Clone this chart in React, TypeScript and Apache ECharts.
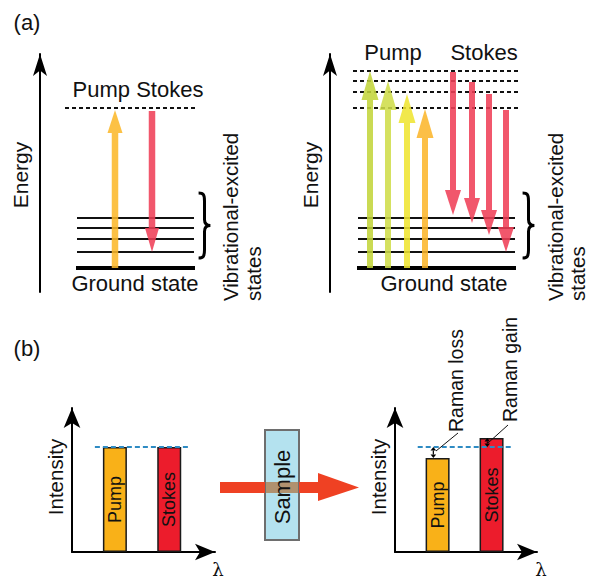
import React, { useEffect, useRef } from 'react';
import * as echarts from 'echarts';

const FONT = '"Liberation Sans", Arial, Helvetica, sans-serif';

// ---------- Panel (a): energy levels (arbitrary energy units, ground state = 0) ----------
const groundLevel = 0;
const vibLevels = [16, 29, 40, 50];
const virtualLevelsA1 = [160];
const virtualLevelsA2 = [197, 187, 176, 160];

// left diagram: one pump / one Stokes
const a1PumpPos = [75];
const a1PumpTop = [158];
const a1StokesPos = [112];
const a1StokesFrom = [157];
const a1StokesTo = [16];

// right diagram: several pumps / several Stokes
const a2PumpPos = [40, 58, 77, 95];
const a2PumpTop = [197, 187, 174, 159];
const a2StokesPos = [123, 142, 159, 176];
const a2StokesFrom = [196, 186, 174, 158];
const a2StokesTo = [53, 45, 33, 16];

// horizontal extents of the level lines (diagram x units)
const a1LineSpan = [37, 154];
const a1GroundSpan = [36, 155];
const a1VirtualSpan = [25, 158];
const a2LineSpan = [28, 185];
const a2GroundSpan = [27, 186];
const a2VirtualSpan = [23, 190];
const a1BraceX = [158, 171];
const a2BraceX = [192, 205];
const braceRange = [10, 75];

const PUMP_A1_COLORS = ['#fbb829'];
const PUMP_A2_COLORS = ['#c2d53a', '#cfdc48', '#efe530', '#fbb62a'];
const STOKES_COLOR = '#ef3e56';

// ---------- Panel (b): intensities before / after the sample ----------
const bNames = ['Pump', 'Stokes'];
const bWavelength = [3.0, 6.8];
const bBefore = [7.29, 7.29];
const bAfter = [6.53, 7.92];
const bBaseline = 7.29;
const bBaselineSpan = [1.6, 8.25];
const BAR_COLORS = ['#f9b118', '#ec1c2c'];

type Api = any;

function levelItem(_p: any, api: Api) {
  const x0 = api.value(0), x1 = api.value(1), e = api.value(2), t = api.value(3);
  const p0 = api.coord([x0, e]);
  const p1 = api.coord([x1, e]);
  let style: any;
  if (t === 1) style = { stroke: '#000', lineWidth: 4 };
  else if (t === 2) style = { stroke: '#111', lineWidth: 1.8, lineDash: [4, 3] };
  else style = { stroke: '#111', lineWidth: 2 };
  return { type: 'line', shape: { x1: p0[0], y1: p0[1], x2: p1[0], y2: p1[1] }, style };
}

function arrowRenderer(colors: string[], headLen: number, headW: number, shaftW: number) {
  return (_p: any, api: Api) => {
    const x = api.value(0), from = api.value(1), to = api.value(2), ci = api.value(3);
    const p0 = api.coord([x, from]);
    const p1 = api.coord([x, to]);
    const dir = p1[1] < p0[1] ? -1 : 1;
    const baseY = p1[1] - dir * headLen;
    const color = colors[ci];
    return {
      type: 'group',
      children: [
        {
          type: 'rect',
          shape: { x: p0[0] - shaftW / 2, y: Math.min(p0[1], baseY), width: shaftW, height: Math.abs(baseY - p0[1]) },
          style: { fill: color, opacity: 0.87 },
        },
        {
          type: 'polygon',
          shape: { points: [[p1[0] - headW / 2, baseY], [p1[0] + headW / 2, baseY], [p1[0], p1[1]]] },
          style: { fill: color, opacity: 0.87 },
        },
      ],
    };
  };
}

const BRACE_PATH = 'M0,0 C5,0 6,2 6,8 L6,27 C6,31 8,33 12,33 C8,33 6,35 6,39 L6,58 C6,64 5,66 0,66';
function braceItem(_p: any, api: Api) {
  const x0 = api.value(0), x1 = api.value(1), lo = api.value(2), hi = api.value(3);
  const pTop = api.coord([x0, hi]);
  const pBot = api.coord([x1, lo]);
  return {
    type: 'path',
    shape: { pathData: BRACE_PATH, x: pTop[0], y: pTop[1], width: pBot[0] - pTop[0], height: pBot[1] - pTop[1] },
    style: { stroke: '#000', lineWidth: 3, fill: 'none' },
  };
}

function doubleArrowItem(_p: any, api: Api) {
  const x = api.value(0), a = api.value(1), b = api.value(2);
  const pa = api.coord([x, Math.max(a, b)]);
  const pb = api.coord([x, Math.min(a, b)]);
  const hw = 2.8, hl = 3.5;
  return {
    type: 'group',
    children: [
      { type: 'line', shape: { x1: pa[0], y1: pa[1] + hl, x2: pb[0], y2: pb[1] - hl }, style: { stroke: '#000', lineWidth: 1.2 } },
      { type: 'polygon', shape: { points: [[pa[0], pa[1]], [pa[0] - hw, pa[1] + hl], [pa[0] + hw, pa[1] + hl]] }, style: { fill: '#000' } },
      { type: 'polygon', shape: { points: [[pb[0], pb[1]], [pb[0] - hw, pb[1] - hl], [pb[0] + hw, pb[1] - hl]] }, style: { fill: '#000' } },
    ],
  };
}

function levelsData(lineSpan: number[], groundSpan: number[], virtSpan: number[], virt: number[]) {
  const d: number[][] = [];
  vibLevels.forEach((e) => d.push([lineSpan[0], lineSpan[1], e, 0]));
  d.push([groundSpan[0], groundSpan[1], groundLevel, 1]);
  virt.forEach((e) => d.push([virtSpan[0], virtSpan[1], e, 2]));
  return d;
}

function txt(text: string, x: number, y: number, size: number, rot = 0, align = 'center', family = FONT) {
  return {
    type: 'text',
    x,
    y,
    rotation: rot,
    z: 20,
    style: {
      text,
      fontSize: size,
      fontFamily: family,
      fill: '#111',
      align,
      textAlign: align,
      verticalAlign: 'middle',
      textVerticalAlign: 'middle',
    },
  };
}

const R = Math.PI / 2;

export default function App() {
  const ref = useRef<HTMLDivElement>(null);
  useEffect(() => {
    if (!ref.current) return;
    const chart = echarts.init(ref.current, undefined, { renderer: 'svg' });

    const energyAxis = (gi: number) => ({
      gridIndex: gi,
      type: 'value',
      min: -24,
      max: 214,
      axisLine: { show: true, symbol: ['none', 'arrow'], symbolSize: [10.5, 22], lineStyle: { color: '#000', width: 2 } },
      axisTick: { show: false },
      axisLabel: { show: false },
      splitLine: { show: false },
    });
    const diagX = (gi: number) => ({ gridIndex: gi, type: 'value', min: 0, max: 200, show: false });
    const bAxis = (gi: number) => ({
      gridIndex: gi,
      type: 'value',
      min: 0,
      max: 10,
      axisLine: { show: true, onZero: false, symbol: ['none', 'arrow'], symbolSize: [12.5, 20], lineStyle: { color: '#000', width: 2 } },
      axisTick: { show: false },
      axisLabel: { show: false },
      splitLine: { show: false },
    });

    const barSeries = (gi: number, values: number[]) => ({
      type: 'bar',
      xAxisIndex: gi,
      yAxisIndex: gi,
      barWidth: 24,
      z: 3,
      data: bNames.map((n, i) => ({ name: n, value: [bWavelength[i], values[i]], itemStyle: { color: BAR_COLORS[i] } })),
      itemStyle: { borderColor: '#1a1a1a', borderWidth: 1.5 },
      label: { show: true, position: 'inside', rotate: 90, formatter: '{b}', fontSize: 18, fontFamily: FONT, color: '#111' },
      markLine: {
        silent: true,
        symbol: ['none', 'none'],
        label: { show: false },
        lineStyle: { color: '#2e8bc3', type: [5, 3], width: 2 },
        data: [[{ coord: [bBaselineSpan[0], bBaseline] }, { coord: [bBaselineSpan[1], bBaseline] }]],
      },
    });

    const option: any = {
      animation: false,
      backgroundColor: '#ffffff',
      grid: [
        { left: 40, top: 54, width: 200, height: 238, outerBoundsMode: 'none' },
        { left: 330, top: 54, width: 200, height: 238, outerBoundsMode: 'none' },
        { left: 72, top: 408, width: 143, height: 144, outerBoundsMode: 'none' },
        { left: 395, top: 408, width: 142, height: 144, outerBoundsMode: 'none' },
      ],
      xAxis: [diagX(0), diagX(1), bAxis(2), bAxis(3)],
      yAxis: [energyAxis(0), energyAxis(1), bAxis(2), bAxis(3)],
      series: [
        { type: 'custom', xAxisIndex: 0, yAxisIndex: 0, z: 2, renderItem: levelItem, data: levelsData(a1LineSpan, a1GroundSpan, a1VirtualSpan, virtualLevelsA1) },
        { type: 'custom', xAxisIndex: 1, yAxisIndex: 1, z: 2, renderItem: levelItem, data: levelsData(a2LineSpan, a2GroundSpan, a2VirtualSpan, virtualLevelsA2) },
        { type: 'custom', xAxisIndex: 0, yAxisIndex: 0, z: 2, renderItem: braceItem, data: [[a1BraceX[0], a1BraceX[1], braceRange[0], braceRange[1]]] },
        { type: 'custom', xAxisIndex: 1, yAxisIndex: 1, z: 2, renderItem: braceItem, data: [[a2BraceX[0], a2BraceX[1], braceRange[0], braceRange[1]]] },
        {
          type: 'custom', xAxisIndex: 0, yAxisIndex: 0, z: 4,
          renderItem: arrowRenderer(PUMP_A1_COLORS, 23, 15, 6.5),
          data: a1PumpPos.map((x, i) => [x, groundLevel, a1PumpTop[i], i]),
        },
        {
          type: 'custom', xAxisIndex: 0, yAxisIndex: 0, z: 4,
          renderItem: arrowRenderer([STOKES_COLOR], 24, 14, 6.5),
          data: a1StokesPos.map((x, i) => [x, a1StokesFrom[i], a1StokesTo[i], 0]),
        },
        {
          type: 'custom', xAxisIndex: 1, yAxisIndex: 1, z: 4,
          renderItem: arrowRenderer(PUMP_A2_COLORS, 29, 17, 6),
          data: a2PumpPos.map((x, i) => [x, groundLevel, a2PumpTop[i], i]),
        },
        {
          type: 'custom', xAxisIndex: 1, yAxisIndex: 1, z: 4,
          renderItem: arrowRenderer([STOKES_COLOR], 25, 16, 6),
          data: a2StokesPos.map((x, i) => [x, a2StokesFrom[i], a2StokesTo[i], 0]),
        },
        barSeries(2, bBefore),
        barSeries(3, bAfter),
        {
          type: 'custom', xAxisIndex: 3, yAxisIndex: 3, z: 6,
          renderItem: doubleArrowItem,
          data: bWavelength.map((w, i) => [w - 0.3, bBaseline, bAfter[i]]),
        },
      ],
      graphic: [
        txt('(a)', 27, 22, 22),
        txt('(b)', 27, 348, 22),
        txt('Energy', 20, 175, 21, R),
        txt('Energy', 310, 175, 21, R),
        txt('Pump Stokes', 138, 89, 22),
        txt('Pump', 393, 52, 22),
        txt('Stokes', 484, 52, 22),
        txt('Ground state', 135, 283, 22),
        txt('Ground state', 444, 283, 22),
        txt('Vibrational-excited', 230, 301, 20.5, R, 'left'),
        txt('states', 253, 301, 20.5, R, 'left'),
        txt('Vibrational-excited', 555, 301, 20.5, R, 'left'),
        txt('states', 577, 301, 20.5, R, 'left'),
        txt('Intensity', 55, 477, 20.5, R),
        txt('Intensity', 378, 477, 20.5, R),
        txt('λ', 218, 569, 18, 0, 'center', '"DejaVu Serif", "Liberation Serif", serif'),
        txt('λ', 541, 569, 18, 0, 'center', '"DejaVu Serif", "Liberation Serif", serif'),
        // sample and beam
        { type: 'rect', z: 10, shape: { x: 265, y: 430, width: 34, height: 110 }, style: { fill: '#b4e2ef', stroke: '#6e6e6e', lineWidth: 2 } },
        { type: 'rect', z: 11, shape: { x: 220, y: 482, width: 45, height: 11 }, style: { fill: '#ef4123' } },
        { type: 'rect', z: 11, shape: { x: 266, y: 482, width: 32, height: 11 }, style: { fill: '#b0916f' } },
        { type: 'rect', z: 11, shape: { x: 299, y: 482, width: 20, height: 11 }, style: { fill: '#ef4123' } },
        { type: 'polygon', z: 11, shape: { points: [[318, 473], [359, 487.5], [318, 501]] }, style: { fill: '#ef4123' } },
        txt('Sample', 282, 487, 22, R),
        // Raman annotations
        { type: 'line', z: 12, shape: { x1: 458, y1: 433, x2: 436, y2: 451 }, style: { stroke: '#111', lineWidth: 1 } },
        { type: 'line', z: 12, shape: { x1: 508, y1: 425, x2: 488, y2: 443 }, style: { stroke: '#111', lineWidth: 1 } },
        txt('Raman loss', 456, 432, 19.5, R, 'left'),
        txt('Raman gain', 510, 422, 19.5, R, 'left'),
      ],
    };
    chart.setOption(option);
    return () => chart.dispose();
  }, []);
  return <div ref={ref} style={{ position: 'absolute', left: 0, top: 0, width: 589, height: 580 }} />;
}
